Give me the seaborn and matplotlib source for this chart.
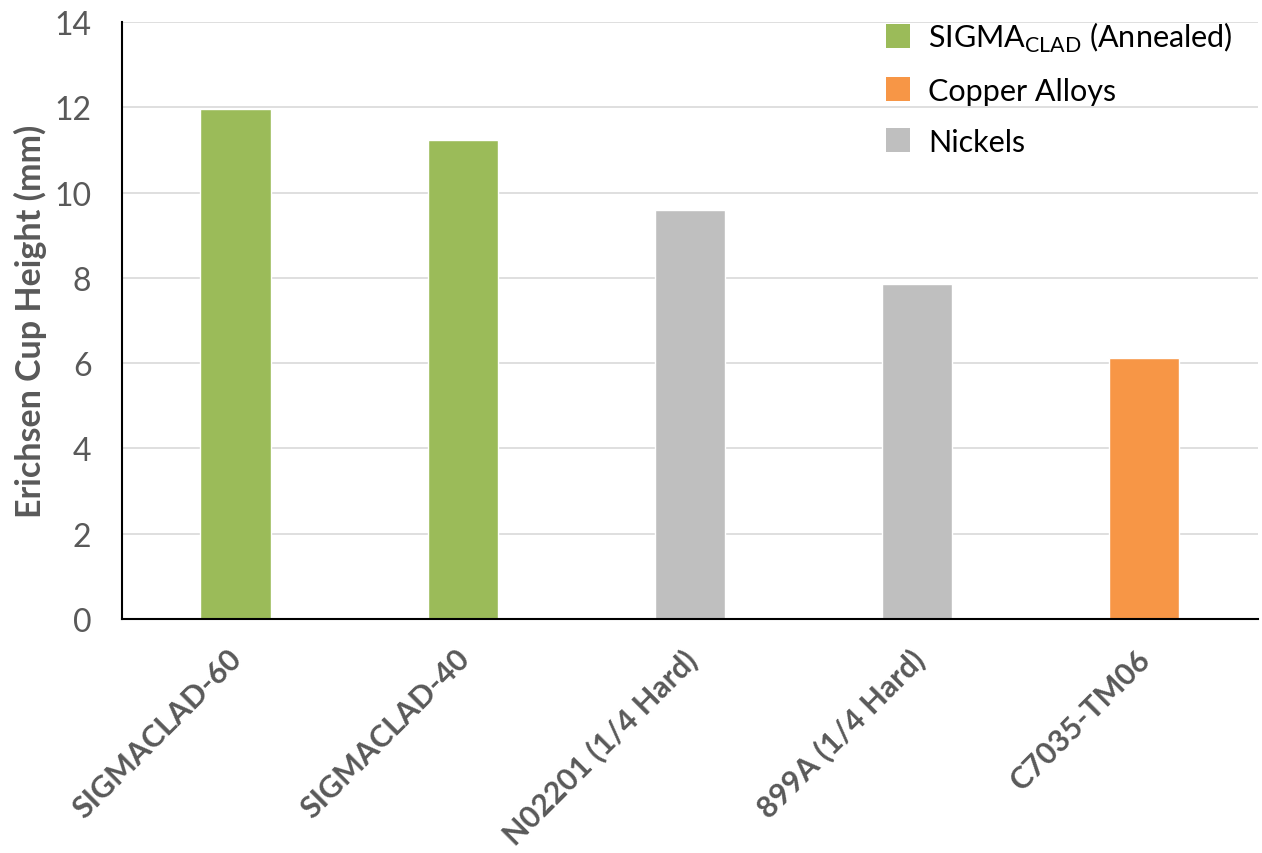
import matplotlib
matplotlib.use("Agg")
import matplotlib.pyplot as plt
import matplotlib.transforms as mtransforms
import seaborn as sns
import pandas as pd

categories = ["SIGMACLAD-60", "SIGMACLAD-40", "N02201 (1/4 Hard)", "899A (1/4 Hard)", "C7035-TM06"]
values = [11.95, 11.23, 9.59, 7.86, 6.11]
groups = ["SIGMA", "SIGMA", "Nickels", "Nickels", "Copper"]
group_order = ["SIGMA", "Copper", "Nickels"]
group_labels = [r"SIGMA$_{\mathregular{CLAD}}$ (Annealed)", "Copper Alloys", "Nickels"]
colors = {"SIGMA": "#9BBB59", "Copper": "#F79646", "Nickels": "#BFBFBF"}
yticks = [0, 2, 4, 6, 8, 10, 12, 14]

sns.set_theme(style="white")
plt.rcParams["font.family"] = ["Lato", "DejaVu Sans"]
plt.rcParams["mathtext.fontset"] = "custom"
plt.rcParams["mathtext.rm"] = "Lato"

df = pd.DataFrame({"cat": categories, "val": values, "grp": groups})

fig = plt.figure(figsize=(12.62, 8.54), dpi=100)
ax = fig.add_axes([0.0967, 0.274, 0.9, 0.699])

sns.barplot(data=df, x="cat", y="val", hue="grp", hue_order=group_order,
            palette=colors, dodge=False, width=0.31, ax=ax, saturation=1,
            legend=False)

ax.set_xlim(-0.5, len(categories) - 0.5)
ax.set_ylim(0, 14)
ax.set_yticks(yticks)
ax.set_yticklabels([str(t) for t in yticks], fontsize=23, color="#595959")
ax.yaxis.grid(True, color="#D9D9D9", linewidth=1.2)
ax.set_axisbelow(True)
for s in ["top", "right"]:
    ax.spines[s].set_visible(False)
for s in ["left", "bottom"]:
    ax.spines[s].set_color("black")
    ax.spines[s].set_linewidth(1.5)
ax.tick_params(axis="y", length=0, pad=22)

ax.set_xticks(range(len(categories)))
ax.set_xticklabels(categories, rotation=45, ha="right", rotation_mode="anchor",
                   fontsize=22, fontweight="bold", color="#595959")
ax.tick_params(axis="x", length=0, pad=18)
shift = mtransforms.ScaledTranslation(-8 / 100, 0, fig.dpi_scale_trans)
for lbl in ax.get_xticklabels():
    lbl.set_transform(lbl.get_transform() + shift)
ax.set_xlabel("")
ax.set_ylabel("Erichsen Cup Height (mm)", fontsize=24.5, fontweight="bold",
              color="#595959", labelpad=5)

from matplotlib.patches import Patch
handles = [Patch(facecolor=colors[g], edgecolor="none") for g in group_order]
leg = ax.legend(handles, group_labels, loc="upper left", bbox_to_anchor=(0.648, 1.05),
                frameon=False, fontsize=22, handlelength=0.8, handleheight=0.8,
                labelspacing=0.75, handletextpad=0.6)
for t in leg.get_texts():
    t.set_color("black")

fig.savefig("out.png", dpi=100)
